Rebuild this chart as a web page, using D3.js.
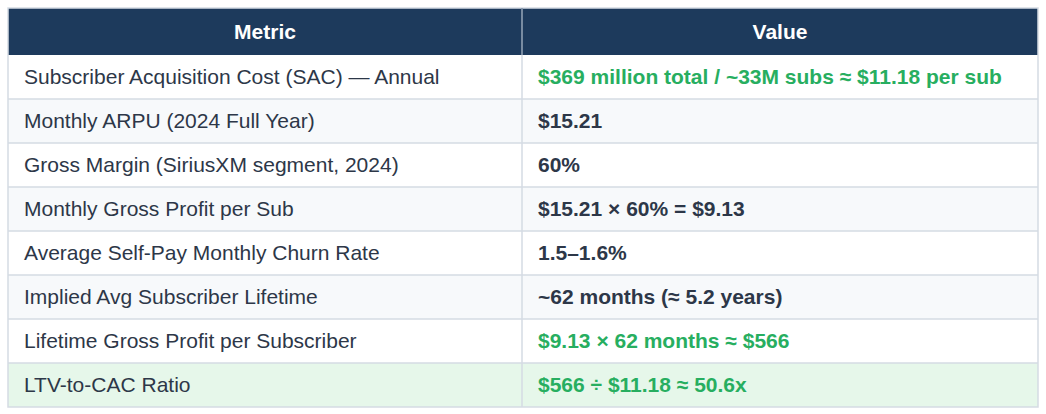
<!DOCTYPE html>
<html>
<head>
<meta charset="utf-8">
<script src="https://cdn.jsdelivr.net/npm/d3@7"></script>
<style>
  body { margin: 0; background: #fff; }
  text { font-family: "Liberation Sans", Arial, sans-serif; }
</style>
</head>
<body>
<script>
var w = 1046;
var h = 414;

var headers = ['Metric', 'Value'];
var metrics = [
  'Subscriber Acquisition Cost (SAC) \u2014 Annual',
  'Monthly ARPU (2024 Full Year)',
  'Gross Margin (SiriusXM segment, 2024)',
  'Monthly Gross Profit per Sub',
  'Average Self-Pay Monthly Churn Rate',
  'Implied Avg Subscriber Lifetime',
  'Lifetime Gross Profit per Subscriber',
  'LTV-to-CAC Ratio'
];
var values = [
  '$369 million total / ~33M subs \u2248 $11.18 per sub',
  '$15.21',
  '60%',
  '$15.21 \u00d7 60% = $9.13',
  '1.5\u20131.6%',
  '~62 months (\u2248 5.2 years)',
  '$9.13 \u00d7 62 months \u2248 $566',
  '$566 \u00f7 $11.18 \u2248 50.6x'
];
var highlighted = [true, false, false, false, false, false, true, true];

var tLeft = 8, tRight = 1038, tTop = 8, headerH = 47, rowH = 44;
var splitX = 522;
var fontSize = 21;

var svg = d3.select('body').append('svg').attr('width', w).attr('height', h);

var y = d3.scaleBand()
  .domain(d3.range(metrics.length))
  .range([tTop + headerH, tTop + headerH + rowH * metrics.length]);

// header
svg.append('rect')
  .attr('x', tLeft).attr('y', tTop)
  .attr('width', tRight - tLeft).attr('height', headerH)
  .attr('fill', '#1d3a5c');

var colX = [tLeft, splitX, tRight];
svg.selectAll('text.head')
  .data(headers)
  .enter()
  .append('text')
  .attr('class', 'head')
  .attr('x', function(d, i) { return (colX[i] + colX[i + 1]) / 2; })
  .attr('y', tTop + headerH / 2)
  .attr('dy', '0.35em')
  .attr('text-anchor', 'middle')
  .attr('font-size', fontSize)
  .attr('font-weight', 'bold')
  .attr('fill', '#ffffff')
  .text(function(d) { return d; });

// rows
var rows = svg.selectAll('g.row')
  .data(metrics)
  .enter()
  .append('g')
  .attr('class', 'row')
  .attr('transform', function(d, i) { return 'translate(0,' + y(i) + ')'; });

rows.append('rect')
  .attr('x', tLeft).attr('y', 0)
  .attr('width', tRight - tLeft).attr('height', y.bandwidth())
  .attr('fill', function(d, i) {
    if (i === metrics.length - 1) { return '#e6f7ea'; }
    return i % 2 === 0 ? '#ffffff' : '#f7f9fb';
  });

rows.append('text')
  .attr('x', tLeft + 16)
  .attr('y', y.bandwidth() / 2)
  .attr('dy', '0.35em')
  .attr('font-size', fontSize)
  .attr('fill', '#2d3748')
  .text(function(d) { return d; });

rows.append('text')
  .attr('x', splitX + 16)
  .attr('y', y.bandwidth() / 2)
  .attr('dy', '0.35em')
  .attr('font-size', fontSize)
  .attr('font-weight', 'bold')
  .attr('fill', function(d, i) { return highlighted[i] ? '#27ae60' : '#2d3748'; })
  .text(function(d, i) { return values[i]; });

// grid lines
var tBottom = y.range()[1];
svg.selectAll('line.hline')
  .data(d3.range(1, metrics.length))
  .enter()
  .append('line')
  .attr('class', 'hline')
  .attr('x1', tLeft).attr('x2', tRight)
  .attr('y1', function(d) { return y(d); })
  .attr('y2', function(d) { return y(d); })
  .attr('stroke', '#d5dbe3').attr('stroke-width', 1.5);

svg.append('line')
  .attr('x1', splitX).attr('x2', splitX)
  .attr('y1', tTop).attr('y2', tBottom)
  .attr('stroke', '#d5dbe3').attr('stroke-width', 1.5);

svg.append('rect')
  .attr('x', tLeft).attr('y', tTop)
  .attr('width', tRight - tLeft).attr('height', tBottom - tTop)
  .attr('fill', 'none')
  .attr('stroke', '#d5dbe3').attr('stroke-width', 1.5);

svg.append('line')
  .attr('x1', splitX).attr('x2', splitX)
  .attr('y1', tTop).attr('y2', tTop + headerH)
  .attr('stroke', '#4a6482').attr('stroke-width', 1);
</script>
</body>
</html>
